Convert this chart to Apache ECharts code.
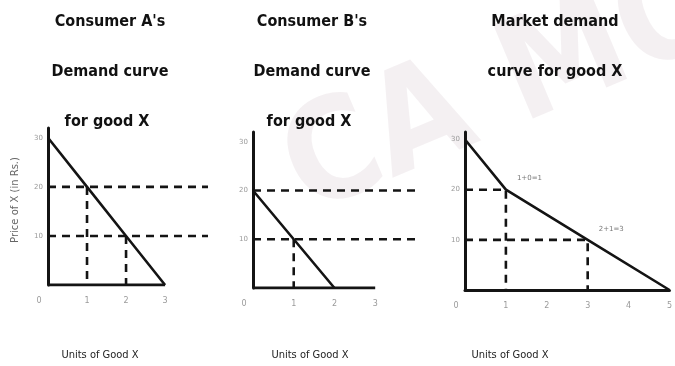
<!DOCTYPE html>
<html>
<head>
<meta charset="utf-8">
<script src="https://cdn.jsdelivr.net/npm/echarts@6/dist/echarts.min.js"></script>
<style>
  html, body { margin: 0; padding: 0; background: #fff; }
  #chart { width: 675px; height: 366px; }
</style>
</head>
<body>
<div id="chart"></div>
<script>
// Individual and market demand schedules for good X
const unitsA = [0, 1, 2, 3];
const priceA = [30, 20, 10, 0];
const unitsB = [0, 1, 2];
const priceB = [20, 10, 0];
const unitsMarket = [0, 1, 3, 5];
const priceMarket = [30, 20, 10, 0];

// Price levels picked out with dashed guides, and the summed quantities
const guidePrices = [20, 10];
const sumLabels = ['1+0=1', '2+1=3'];

// Axis ticks
const unitTicksA = [0, 1, 2, 3];
const unitTicksB = [0, 1, 2, 3];
const unitTicksMarket = [0, 1, 2, 3, 4, 5];
const priceTicks = [0, 10, 20, 30];

const titleLines = [
  ['Consumer A\'s', 'Demand curve', 'for good X'],
  ['Consumer B\'s', 'Demand curve', 'for good X'],
  ['Market demand', 'curve for good X']
];
const xAxisTitle = 'Units of Good X';
const yAxisTitle = 'Price of X (in Rs.)';

const INK = '#141414';
const TICK_GREY = '#9a9a9a';
const TITLE_FONT = '"DejaVu Sans Condensed", "DejaVu Sans", sans-serif';

function qtyAt(xs, ys, p) {
  const i = ys.indexOf(p);
  return i < 0 ? null : xs[i];
}

// How far the individual panels' price guides run to the right (in units)
const guideReach = 4.1;

// Panel layout (pixels). The individual panels reserve room on the right
// for the long price guides; their quantity axis is drawn only up to the last tick.
const panels = [
  { left: 48,  top: 128, width: 160, height: 157, ticks: unitTicksA, xmax: guideReach, ymax: 32, ownBase: true },
  { left: 253, top: 132, width: 167, height: 156, ticks: unitTicksB, xmax: guideReach, ymax: 32, ownBase: true },
  { left: 465, top: 132, width: 208, height: 158, ticks: unitTicksMarket, xmax: 5, ymax: 31.5, ownBase: false }
];

const grid = panels.map(p => ({ left: p.left, top: p.top, width: p.width, height: p.height }));

const xAxis = panels.map((p, i) => ({
  type: 'value', gridIndex: i, min: 0, max: p.xmax, interval: 1,
  axisLine: { show: !p.ownBase, onZero: false, lineStyle: { color: INK, width: 3 } },
  axisTick: { show: false },
  splitLine: { show: false },
  axisLabel: {
    margin: 12, color: TICK_GREY, fontSize: 8, fontFamily: 'DejaVu Sans',
    showMaxLabel: true,
    formatter: v => (p.ticks.indexOf(v) < 0 ? '' : (v === 0 ? '{z|0}' : String(v))),
    rich: { z: { color: TICK_GREY, fontSize: 8, padding: [0, 18, 0, 0] } }
  }
}));

const yAxis = panels.map((p, i) => ({
  type: 'value', gridIndex: i, min: 0, max: p.ymax, interval: 10,
  axisLine: { show: true, onZero: false, lineStyle: { color: INK, width: 3 } },
  axisTick: { show: false },
  splitLine: { show: false },
  axisLabel: {
    margin: 5, color: TICK_GREY, fontSize: 7, fontFamily: 'DejaVu Sans',
    formatter: v => (v > 0 && priceTicks.indexOf(v) >= 0 ? String(v) : '')
  }
}));

function curve(idx, xs, ys) {
  return {
    type: 'line', xAxisIndex: idx, yAxisIndex: idx,
    data: xs.map((x, i) => [x, ys[i]]),
    symbol: 'none', z: 5,
    lineStyle: { color: INK, width: 2.6 }
  };
}

function dashed(idx, pts) {
  return {
    type: 'line', xAxisIndex: idx, yAxisIndex: idx,
    data: pts, symbol: 'none', z: 4,
    lineStyle: { color: INK, width: 2.6, type: [8, 6] }
  };
}

const series = [];
series.push(curve(0, unitsA, priceA));
series.push(curve(1, unitsB, priceB));
series.push(curve(2, unitsMarket, priceMarket));

// Quantity axis baselines of the individual panels, up to their last tick
panels.forEach((p, idx) => {
  if (!p.ownBase) return;
  const last = p.ticks[p.ticks.length - 1];
  series.push({
    type: 'line', xAxisIndex: idx, yAxisIndex: idx,
    data: [[0, 0], [last, 0]], symbol: 'none', z: 6,
    lineStyle: { color: INK, width: 3 }
  });
});

// Individual panels: long horizontal guides plus drops to the quantity axis
[[0, unitsA, priceA], [1, unitsB, priceB]].forEach(([idx, xs, ys]) => {
  guidePrices.forEach(p => {
    series.push(dashed(idx, [[0, p], [guideReach, p]]));
    const q = qtyAt(xs, ys, p);
    if (q) series.push(dashed(idx, [[q, p], [q, 0]]));
  });
});

// Market panel: guides stop at the demand curve
guidePrices.forEach(p => {
  const q = qtyAt(unitsMarket, priceMarket, p);
  series.push(dashed(2, [[0, p], [q, p], [q, 0]]));
});

// Summed quantity notes on the market curve
series.push({
  type: 'scatter', xAxisIndex: 2, yAxisIndex: 2, symbolSize: 0, z: 6,
  data: guidePrices.map((p, i) => ({
    value: [qtyAt(unitsMarket, priceMarket, p), p],
    label: { formatter: sumLabels[i] }
  })),
  label: {
    show: true, position: 'right', offset: [6, -11],
    color: '#555', fontSize: 7, fontFamily: 'DejaVu Sans'
  }
});

const centres = [110, 312, 555];
const graphic = [];

// Faint watermark lettering behind the panels
graphic.push({
  type: 'text', x: 320, y: 245, z: -10, rotation: 0.4, silent: true,
  style: {
    text: 'CA MO', fill: 'rgba(185,160,172,0.16)',
    font: 'bold 140px "DejaVu Sans Condensed", sans-serif', verticalAlign: 'bottom'
  }
});

titleLines.forEach((lines, i) => {
  lines.forEach((t, j) => {
    graphic.push({
      type: 'text', x: centres[i] + (j === 2 ? -3 : 0), y: 22 + j * 50,
      style: {
        text: t, fill: '#111', align: 'center', verticalAlign: 'middle',
        font: 'bold 16px ' + TITLE_FONT
      }
    });
  });
});

[100, 310, 510].forEach(cx => {
  graphic.push({
    type: 'text', x: cx, y: 355,
    style: {
      text: xAxisTitle, fill: '#222', align: 'center', verticalAlign: 'middle',
      font: '11px "DejaVu Sans Condensed", sans-serif'
    }
  });
});

graphic.push({
  type: 'text', x: 15, y: 200, rotation: Math.PI / 2,
  style: {
    text: yAxisTitle, fill: '#666', align: 'center', verticalAlign: 'middle',
    font: '10px "DejaVu Sans", sans-serif'
  }
});

const chart = echarts.init(document.getElementById('chart'), null, { renderer: 'canvas' });
chart.setOption({
  animation: false,
  backgroundColor: '#fff',
  grid, xAxis, yAxis, series, graphic
});
</script>
</body>
</html>
